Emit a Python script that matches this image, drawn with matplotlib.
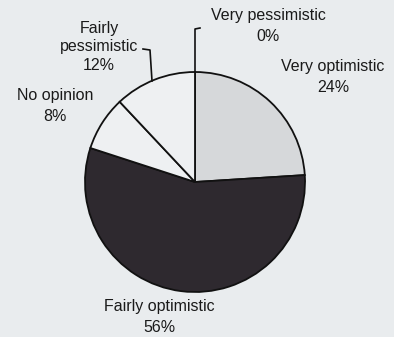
import matplotlib
matplotlib.use("Agg")
import matplotlib.pyplot as plt

# Survey outlook shares (percent), clockwise from 12 o'clock
categories = ["Very pessimistic", "Very optimistic", "Fairly optimistic",
              "No opinion", "Fairly pessimistic"]
shares = [0, 24, 56, 8, 12]
slice_colors = ["#eef0f2", "#d6d8da", "#2e292f", "#eef0f2", "#eef0f2"]

W, H = 394, 337
fig = plt.figure(figsize=(W / 100, H / 100), dpi=100)
fig.patch.set_facecolor("#e9ecee")
ax = fig.add_axes([0, 0, 1, 1])

cx, cy, r = 195, H - 182, 110
ax.pie(shares, startangle=90, counterclock=False, colors=slice_colors,
       center=(cx, cy), radius=r, frame=True,
       wedgeprops=dict(edgecolor="#111111", linewidth=1.3))
ax.set_xlim(0, W)
ax.set_ylim(0, H)
ax.set_aspect("equal")
ax.axis("off")

font = dict(family=["Liberation Sans", "DejaVu Sans"], fontsize=11.5,
            color="#1a1a1a", ha="center", va="center")

def label(i, x, y, spacing=1.45):
    ax.text(x, H - y, f"{categories[i]}\n{shares[i]}%",
            linespacing=spacing, **font)

label(0, 268, 26)
label(1, 333, 77)
label(3, 55, 106)
label(2, 159, 317)
ax.text(99, H - 47, "Fairly\npessimistic\n12%", linespacing=1.3, **font)

# leader lines
lc = dict(color="#111111", linewidth=1.2)
ax.plot([cx, cx, cx + 5], [cy + r, H - 29, H - 28], **lc)
ax.plot([143, 150, 152], [H - 49, H - 50, H - 81], **lc)

fig.savefig("out.png", dpi=100, facecolor=fig.get_facecolor())
